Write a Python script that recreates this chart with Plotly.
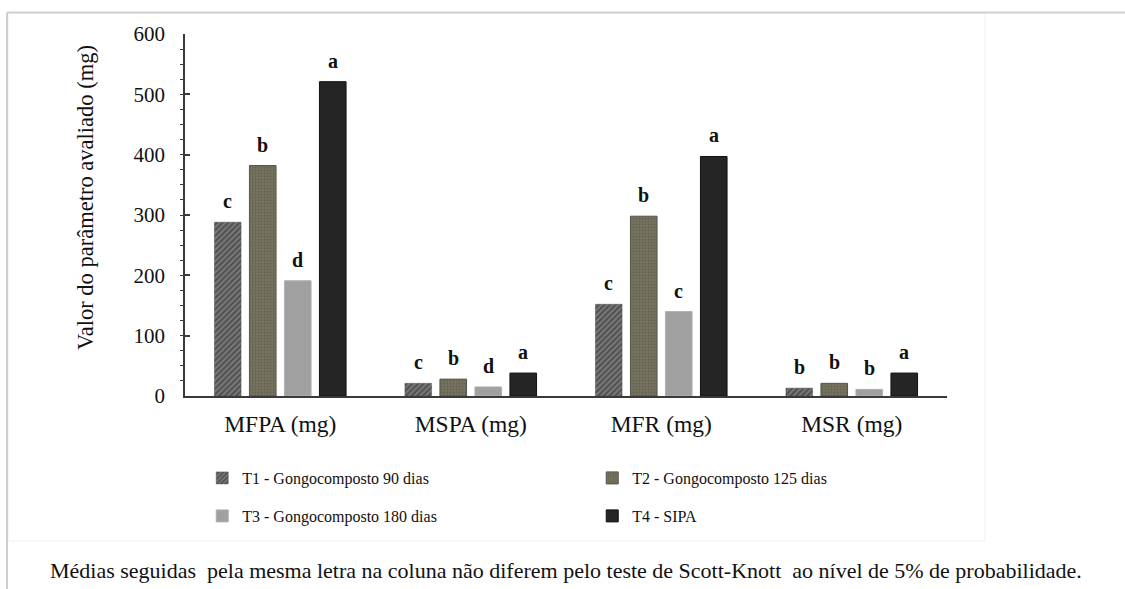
import plotly.graph_objects as go

categories = ["MFPA (mg)", "MSPA (mg)", "MFR (mg)", "MSR (mg)"]
series_names = ["T1 - Gongocomposto 90 dias", "T2 - Gongocomposto 125 dias",
                "T3 - Gongocomposto 180 dias", "T4 - SIPA"]
t1_values = [288, 21, 152, 13]
t2_values = [382, 28, 298, 21]
t3_values = [191, 15, 140, 11]
t4_values = [521, 38, 397, 38]
t1_letters = ["c", "c", "c", "b"]
t2_letters = ["b", "b", "b", "b"]
t3_letters = ["d", "d", "c", "b"]
t4_letters = ["a", "a", "a", "a"]
y_tick_values = [0, 100, 200, 300, 400, 500, 600]
y_title = "Valor do parâmetro avaliado (mg)"
caption = ("Médias seguidas  pela mesma letra na coluna não diferem pelo teste de "
           "Scott-Knott  ao nível de 5% de probabilidade.")

values = [t1_values, t2_values, t3_values, t4_values]
letters = [t1_letters, t2_letters, t3_letters, t4_letters]

SERIF = "Liberation Serif"
styles = [
    dict(color="#6a6a6a", pattern=dict(shape="/", fgcolor="#242424", bgcolor="#7a7a7a",
                                       size=4, solidity=0.5),
         line=dict(color="#4a4a4a", width=0.5)),
    dict(color="#6f6d5d", pattern=dict(shape=".", fgcolor="#4e4c40", bgcolor="#76745f",
                                       size=3, solidity=0.3),
         line=dict(color="#55534a", width=1)),
    dict(color="#a0a0a0", line=dict(color="#b0b0b0", width=1)),
    dict(color="#252525", line=dict(color="#111111", width=1)),
]
legend_ids = ["legend", "legend", "legend2", "legend2"]

BARGAP = 0.265
GROUPGAP = 0.24
n = len(series_names)

fig = go.Figure()
for i, (name, vals) in enumerate(zip(series_names, values)):
    fig.add_trace(go.Bar(
        x=categories, y=vals, name=name,
        marker=styles[i], legend=legend_ids[i],
        hoverinfo="x+y+name",
    ))

# significance letters above bars
slot = (1 - BARGAP) / n
annotations = []
for i in range(n):
    for j, cat in enumerate(categories):
        annotations.append(dict(
            x=j + (i - (n - 1) / 2) * slot, y=values[i][j],
            xref="x", yref="y", text=f"<b>{letters[i][j]}</b>",
            showarrow=False, yanchor="bottom", yshift=8,
            font=dict(family=SERIF, size=20, color="#111111"),
        ))

L, R, T, B = 185, 178, 34, 193
W, H = 1125, 589
pw, ph = W - L - R, H - T - B


def px(x):
    return (x - L) / pw


def py(y):
    return (H - B - y) / ph


annotations.append(dict(
    x=px(86), y=py(198), xref="paper", yref="paper", text=y_title, textangle=-90,
    showarrow=False, font=dict(family=SERIF, size=22.5, color="#111111"),
    xanchor="center", yanchor="middle",
))
annotations.append(dict(
    x=px(566), y=py(570), xref="paper", yref="paper", text=caption,
    showarrow=False, font=dict(family=SERIF, size=22, color="#111111"),
    xanchor="center", yanchor="middle",
))

shapes = [
    dict(type="line", xref="paper", yref="paper", x0=px(7), x1=px(1125), y0=py(12.5), y1=py(12.5),
         line=dict(color="#cfcfcf", width=2)),
    dict(type="line", xref="paper", yref="paper", x0=px(7), x1=px(7), y0=py(12.5), y1=py(589),
         line=dict(color="#cfcfcf", width=2)),
    dict(type="rect", xref="paper", yref="paper", x0=px(8), x1=px(985), y0=py(13), y1=py(541),
         line=dict(color="#f0f0f0", width=1), layer="below"),
]

legend_common = dict(
    orientation="h", xanchor="left", yanchor="middle",
    font=dict(family=SERIF, size=16, color="#111111"),
    entrywidth=327, entrywidthmode="pixels", indentation=18,
    traceorder="normal", itemwidth=30, bgcolor="rgba(0,0,0,0)",
)

fig.update_layout(
    width=W, height=H,
    margin=dict(l=L, r=R, t=T, b=B),
    paper_bgcolor="white", plot_bgcolor="white",
    barmode="group", bargap=BARGAP, bargroupgap=GROUPGAP,
    font=dict(family=SERIF, color="#111111"),
    showlegend=True,
    legend=dict(x=-0.001, y=py(478), **legend_common),
    legend2=dict(x=-0.001, y=py(516), **legend_common),
    annotations=annotations,
    shapes=shapes,
    xaxis=dict(
        showline=True, linecolor="#3a3a3a", linewidth=1.5,
        ticks="", showgrid=False, zeroline=False,
        tickfont=dict(family=SERIF, size=23.5, color="#111111"),
        ticklabelstandoff=6,
    ),
    yaxis=dict(
        range=[0, 600], tickvals=y_tick_values,
        showline=True, linecolor="#3a3a3a", linewidth=1.5,
        ticks="inside", ticklen=5, tickcolor="#3a3a3a", tickwidth=1.5,
        minor=dict(dtick=25, ticks="outside", ticklen=3, tickcolor="#3a3a3a", tickwidth=1),
        showgrid=False, zeroline=False,
        tickfont=dict(family=SERIF, size=21, color="#111111"),
        ticklabelstandoff=14,
    ),
)

fig.write_html("out.html", config={"displayModeBar": False},
               post_script="document.body.style.margin='0';document.body.style.overflow='hidden';")
